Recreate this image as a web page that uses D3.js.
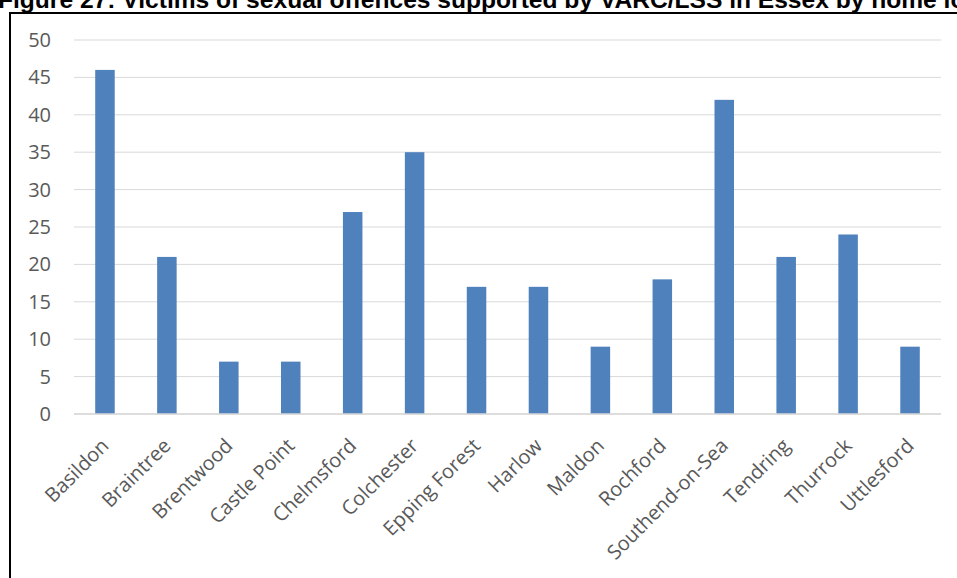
<!DOCTYPE html>
<html><head><meta charset="utf-8">
<script src="https://cdn.jsdelivr.net/npm/d3@7"></script>
<style>body{margin:0;background:#fff;overflow:hidden}</style>
</head><body>
<svg id="c" width="957" height="578"></svg>
<script>
const categories = ["Basildon","Braintree","Brentwood","Castle Point","Chelmsford","Colchester","Epping Forest","Harlow","Maldon","Rochford","Southend-on-Sea","Tendring","Thurrock","Uttlesford"];
const values = [46,21,7,7,27,35,17,17,9,18,42,21,24,9];
const yTicks = [0,5,10,15,20,25,30,35,40,45,50];
const titleText = "Figure 27: Victims of sexual offences supported by VARC/LSS in Essex by home local authority";

const svg = d3.select("#c");
const probe = svg.append("text").attr("font-family","Liberation Sans, Arial, sans-serif")
  .attr("font-weight","bold").attr("font-size",20).text("Figure 27: Victims of sexual offences supported by VARC/LSS in Essex by home lo");
const w20 = probe.node().getComputedTextLength();
probe.remove();
const titleSize = 20 * 968 / w20;
svg.append("text").attr("x",-2).attr("y",8)
  .attr("font-family","Liberation Sans, Arial, sans-serif").attr("font-weight","bold").attr("font-size",titleSize)
  .attr("fill","#000").text(titleText);
svg.append("rect").attr("x",10).attr("y",13).attr("width",1000).attr("height",600)
  .attr("fill","none").attr("stroke","#000").attr("stroke-width",2);

const x = d3.scaleBand().domain(categories).range([74,941]).paddingInner(0.685).paddingOuter(0.3425);
const y = d3.scaleLinear().domain([0,50]).range([414,40]);

const g = svg.append("g");
g.selectAll("line.grid").data(yTicks).join("line").attr("class","grid")
  .attr("x1",74).attr("x2",941).attr("y1",d=>y(d)).attr("y2",d=>y(d))
  .attr("stroke","#d9d9d9").attr("stroke-width",1);

g.selectAll("rect.bar").data(values).join("rect").attr("class","bar")
  .attr("x",(d,i)=>x(categories[i])).attr("width",x.bandwidth())
  .attr("y",d=>y(d)).attr("height",d=>y(0)-y(d)).attr("fill","#4F81BD");

g.append("line").attr("x1",74).attr("x2",941).attr("y1",y(0)).attr("y2",y(0)).attr("stroke","#d9d9d9").attr("stroke-width",1.5);

const yAxis = d3.axisLeft(y).tickValues(yTicks).tickSize(0).tickPadding(0);
const ya = svg.append("g").attr("transform","translate(51,0)").call(yAxis);
ya.select(".domain").remove();
ya.selectAll("text").attr("font-family","Open Sans, sans-serif").attr("font-size",20).attr("fill","#595959");

const xAxis = d3.axisBottom(x).tickSize(0).tickPadding(0);
const xa = svg.append("g").attr("transform",`translate(0,${y(0)})`).call(xAxis);
xa.select(".domain").remove();
xa.selectAll("text").attr("font-family","Open Sans, sans-serif").attr("font-size",20).attr("fill","#595959")
  .attr("text-anchor","end").attr("dy",null).attr("y",0)
  .attr("transform","translate(5,33) rotate(-45)");
</script>
</body></html>
